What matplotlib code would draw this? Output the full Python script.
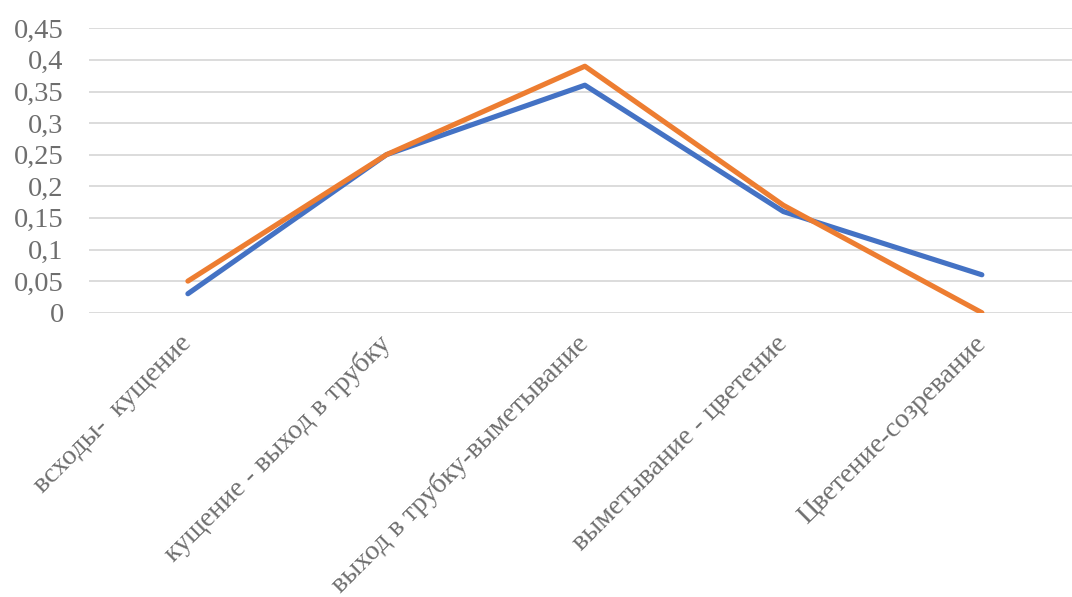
import matplotlib.pyplot as plt
from matplotlib.ticker import FuncFormatter

# Данные
stages = ["всходы-  кущение", "кущение - выход в трубку", "выход в трубку-выметывание",
          "выметывание - цветение", "Цветение-созревание"]
series_blue = [0.03, 0.25, 0.36, 0.16, 0.06]
series_orange = [0.05, 0.25, 0.39, 0.17, 0.0]
yticks = [0, 0.05, 0.1, 0.15, 0.2, 0.25, 0.3, 0.35, 0.4, 0.45]

plt.rcParams["font.family"] = ["Liberation Serif", "DejaVu Serif"]

fig = plt.figure(figsize=(10.72, 5.97), dpi=100)
ax = fig.add_axes([0.0827, 0.4762, 0.9258, 0.4764])

x = list(range(len(stages)))
ax.plot(x, series_blue, color="#4472C4", lw=3.7, solid_capstyle="round", solid_joinstyle="round", zorder=3)
ax.plot(x, series_orange, color="#ED7D31", lw=3.7, solid_capstyle="round", solid_joinstyle="round", zorder=4)

ax.set_xlim(-0.5, len(stages) - 0.5)
ax.set_ylim(0, 0.45)
ax.set_yticks(yticks)
ax.yaxis.set_major_formatter(FuncFormatter(lambda v, p: ("%g" % round(v, 2)).replace(".", ",")))
ax.grid(axis="y", color="#D9D9D9", lw=1.3)
ax.set_axisbelow(True)
for s in ax.spines.values():
    s.set_visible(False)
ax.tick_params(axis="both", length=0, labelsize=20.5, colors="#6E6E6E")
ax.tick_params(axis="y", pad=18)

ax.set_xticks(x)
ax.set_xticklabels(stages, rotation=45, ha="right", va="center", rotation_mode="anchor")
ax.tick_params(axis="x", pad=19.5, labelsize=20.2)

fig.savefig("out.png", dpi=100)
